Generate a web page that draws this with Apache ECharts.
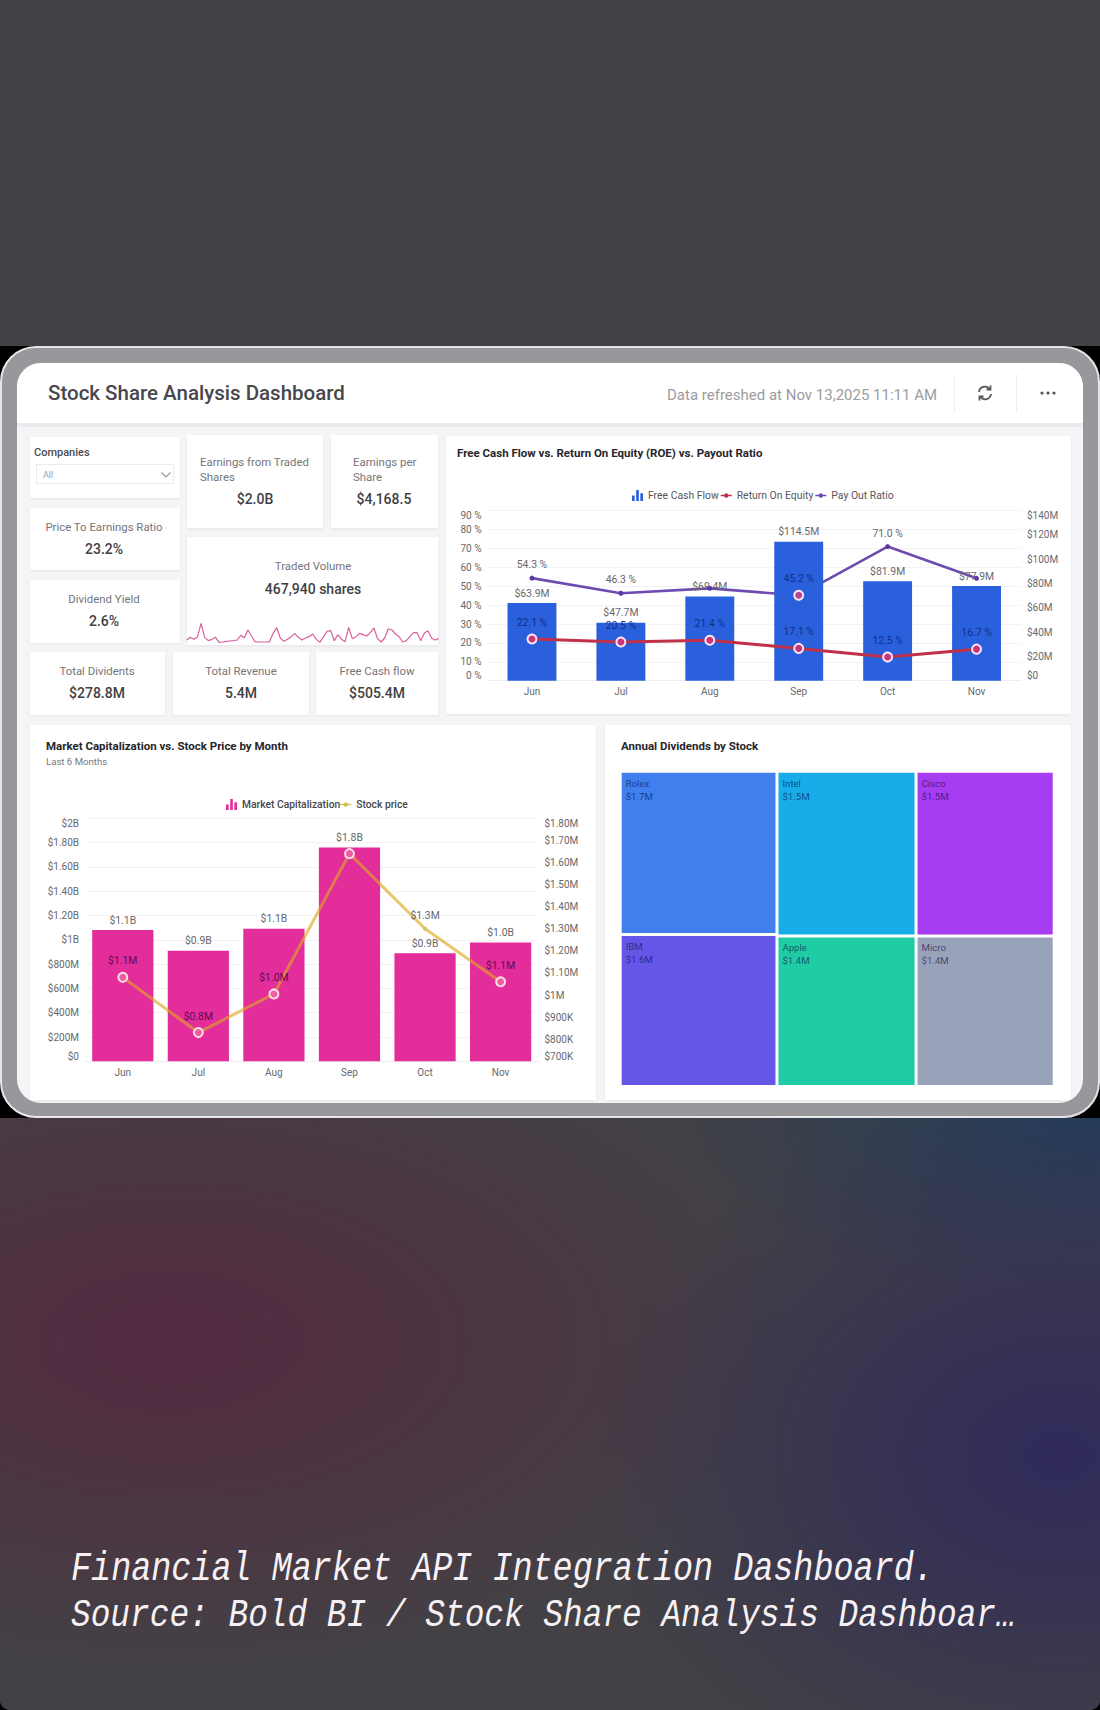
<!DOCTYPE html>
<html>
<head>
<meta charset="utf-8">
<title>Stock Share Analysis Dashboard</title>
<script src="https://cdn.jsdelivr.net/npm/echarts@6/dist/echarts.min.js"></script>
<style>
  html, body { margin: 0; padding: 0; background: #000; }
  #page { position: relative; width: 1100px; height: 1710px; overflow: hidden; background: #434145;
          border-radius: 0 0 10px 10px; font-family: Roboto, sans-serif; }
  #lower { position: absolute; left: 0; top: 1116px; width: 1100px; height: 594px;
    background:
      radial-gradient(ellipse 620px 330px at 170px 225px, #542a40 0%, rgba(84,42,64,0) 100%),
      radial-gradient(ellipse 480px 360px at 1060px 340px, #2f2a5a 0%, rgba(47,42,90,0) 100%),
      radial-gradient(ellipse 440px 190px at 1100px 0, #233c5a 0%, rgba(35,60,90,0) 100%),
      #434145; }
  #band { position: absolute; left: 0; top: 346px; width: 1100px; height: 772px; background: #000; }
  #frame { position: absolute; left: 0; top: 346px; width: 1100px; height: 772px; box-sizing: border-box;
           background: #98989c; border: 2px solid #e6e6e8; border-radius: 36px; }
  #screen { position: absolute; left: 17px; top: 363px; width: 1066px; height: 740px; background: #f5f5f7;
            border-radius: 24px; overflow: hidden; }
  #head { position: absolute; left: 0; top: 0; width: 1066px; height: 60px; background: #fff;
          border-bottom: 4px solid #ebebed; }
  .card { position: absolute; background: #fff; box-shadow: 0 1px 3px rgba(0,0,0,.07); }
  .t { position: absolute; white-space: nowrap; transform: translateY(-50%); }
  .c { transform: translate(-50%, -50%); }
  .lab { font-size: 11.4px; color: #75757a; }
  .val { font-size: 14px; font-weight: 500; color: #3f3f44; }
  #chart { position: absolute; left: 0; top: 0; width: 1100px; height: 1710px; }
  .cap { position: absolute; left: 71px; font-family: "Liberation Mono", monospace; font-style: italic;
         color: #f6f1f4; white-space: nowrap; transform-origin: left center;
         transform: translateY(-50%) scaleY(1.2); }
</style>
</head>
<body>
<div id="page">
  <div id="lower"></div>
  <div id="band"></div>
  <div id="frame"></div>
  <div id="screen"><div id="head"></div></div>
  <div id="boxes"></div>
  <div id="texts"></div>
  <svg style="position:absolute;left:975px;top:383px" width="20" height="20" viewBox="0 0 20 20" fill="none" stroke="#55555a" stroke-width="1.8">
    <path d="M4 9a6 6 0 0 1 10.5-3.2M16 11a6 6 0 0 1-10.5 3.2"/>
    <path d="M15.5 2.5v4h-4M4.5 17.5v-4h4"/>
  </svg>
  <svg style="position:absolute;left:1038px;top:388px" width="20" height="10" fill="#55555a">
    <circle cx="4" cy="5" r="1.6"/><circle cx="10" cy="5" r="1.6"/><circle cx="16" cy="5" r="1.6"/>
  </svg>
  <svg style="position:absolute;left:160px;top:470px" width="12" height="10" fill="none" stroke="#9a9aa0" stroke-width="1.2">
    <path d="M1.5 2.5 6 7l4.5-4.5"/>
  </svg>
  <div id="chart"></div>
  <div class="cap" style="top:1569px;font-size:33.45px">Financial Market API Integration Dashboard.</div>
  <div class="cap" style="top:1616px;font-size:32.8px">Source: Bold BI / Stock Share Analysis Dashboar…</div>
</div>
<script>
// Monthly figures
const months = ['Jun', 'Jul', 'Aug', 'Sep', 'Oct', 'Nov'];
const freeCashFlow = [63.9, 47.7, 69.4, 114.5, 81.9, 77.9];      // $M
const returnOnEquity = [22.1, 20.5, 21.4, 17.1, 12.5, 16.7];     // %
const payoutRatio = [54.3, 46.3, 48.9, 45.2, 71.0, 54.2];        // %
const marketCap = [1080, 910, 1090, 1760, 890, 977];             // $M
const stockPrice = [1080, 830, 1005, 1640, 1300, 1060];          // $K

// Axis tick labels
const marketCapTicks = ['$0', '$200M', '$400M', '$600M', '$800M', '$1B', '$1.20B', '$1.40B', '$1.60B', '$1.80B', '$2B'];
const stockPriceTicks = ['$700K', '$800K', '$900K', '$1M', '$1.10M', '$1.20M', '$1.30M', '$1.40M', '$1.50M', '$1.60M', '$1.70M', '$1.80M'];

// Annual dividends by stock, $M
const stockNames = ['Rolex', 'IBM', 'Intel', 'Cisco', 'Apple', 'Micro'];
const stockDividends = [1.70, 1.58, 1.52, 1.51, 1.39, 1.38];
const stockColors = ['#4080ee', '#6457e8', '#18ade8', '#a63df0', '#20cca4', '#98a2b8'];

// Daily traded volume, thousand shares
const tradedVolume = [15, 23, 17, 25, 65, 23, 13, 17, 23, 8, 9, 11, 12, 13, 15, 29, 21, 45, 27, 10, 9, 9, 9, 10,
  35, 52, 21, 11, 17, 25, 35, 23, 15, 21, 25, 33, 17, 8, 25, 41, 43, 13, 31, 17, 10, 53, 19, 25, 35, 31, 27,
  37, 51, 19, 9, 21, 49, 45, 33, 25, 9, 13, 25, 37, 37, 13, 35, 43, 21, 15, 19];

// KPI cards and dashboard chrome
const cardRects = [
  [30, 437, 150, 61], [187, 435, 136, 93], [331, 435, 107, 93], [30, 508, 150, 62], [30, 580, 150, 63],
  [187, 537, 251, 108], [30, 652, 135, 63], [173, 652, 136, 63], [316, 652, 122, 63],
  [446, 436, 625, 278], [30, 725, 566, 375], [605, 725, 466, 375]
];
const leftTexts = [
  ['Companies', 34, 452, 'font-size:11px;font-weight:500;color:#4a4a4f'],
  ['All', 43, 475, 'font-size:9px;color:#a0a0a5'],
  ['Earnings from Traded', 200, 462, 'font-size:11.4px;color:#75757a'],
  ['Shares', 200, 477, 'font-size:11.4px;color:#75757a'],
  ['Earnings per', 353, 462, 'font-size:11.4px;color:#75757a'],
  ['Share', 353, 477, 'font-size:11.4px;color:#75757a'],
  ['Stock Share Analysis Dashboard', 48, 393, 'font-size:20.5px;font-weight:500;color:#47474c'],
  ['Data refreshed at Nov 13,2025 11:11 AM', 667, 395, 'font-size:15px;color:#9c9ca1']
];
const centeredTexts = [
  ['$2.0B', 255, 499, 'val'], ['$4,168.5', 384, 499, 'val'],
  ['Price To Earnings Ratio', 104, 527, 'lab'], ['23.2%', 104, 549, 'val'],
  ['Dividend Yield', 104, 599, 'lab'], ['2.6%', 104, 621, 'val'],
  ['Traded Volume', 313, 566, 'lab'], ['467,940 shares', 313, 589, 'val'],
  ['Total Dividents', 97, 671, 'lab'], ['$278.8M', 97, 693, 'val'],
  ['Total Revenue', 241, 671, 'lab'], ['5.4M', 241, 693, 'val'],
  ['Free Cash flow', 377, 671, 'lab'], ['$505.4M', 377, 693, 'val']
];

const boxes = document.getElementById('boxes');
cardRects.forEach(([x, y, w, h]) => {
  const d = document.createElement('div');
  d.className = 'card';
  d.style.cssText = `left:${x}px;top:${y}px;width:${w}px;height:${h}px`;
  boxes.appendChild(d);
});
// Company selector box and the two header separators
[[36, 464, 138, 20, 'border:1px solid #ececee;box-sizing:border-box'],
 [954, 374, 1, 38, 'background:#efeff1'], [1016, 374, 1, 38, 'background:#efeff1']].forEach(([x, y, w, h, extra]) => {
  const d = document.createElement('div');
  d.style.cssText = `position:absolute;left:${x}px;top:${y}px;width:${w}px;height:${h}px;${extra}`;
  boxes.appendChild(d);
});
const texts = document.getElementById('texts');
leftTexts.forEach(([s, x, y, css]) => {
  const d = document.createElement('div');
  d.className = 't';
  d.textContent = s;
  d.style.cssText = `left:${x}px;top:${y}px;${css}`;
  texts.appendChild(d);
});
centeredTexts.forEach(([s, x, y, cls]) => {
  const d = document.createElement('div');
  d.className = 't c ' + cls;
  d.textContent = s;
  d.style.cssText = `left:${x}px;top:${y}px`;
  texts.appendChild(d);
});

// Chart styling
const GREY = '#68686d';
const NAVY = '#0f2f8c';
const PLUM = '#5f0b58';
const BLUE = '#2a60dc';
const PINK = '#e22d9b';
const RED = '#c0304a';
const PURPLE = '#6d4bb0';
const BAR_ICON = 'path://M0 10V5h2.4v5zM3.8 10V0h2.4v10zM7.6 10V3H10v7z';
const LINE_ICON = 'path://M0 4.3h3.1a2 2 0 0 1 3.8 0H10v1.4H6.9a2 2 0 0 1-3.8 0H0z';
const hiddenPayoutLabels = new Set(['Aug', 'Nov']);
const hiddenStockLabels = new Set(['Sep']);

const titleStyle = { fontFamily: 'Roboto', fontSize: 11.5, fontWeight: 'bold', color: '#26262a' };
const monthAxis = (gridIndex) => ({
  type: 'category', gridIndex, data: months,
  axisLine: { lineStyle: { color: '#eeeef0' } }, axisTick: { show: false },
  axisLabel: { color: GREY, fontSize: 10, fontFamily: 'Roboto', margin: 6 }
});
const valueAxis = (gridIndex, position, min, max, interval, formatter, showGrid) => ({
  type: 'value', gridIndex, position, min, max, interval,
  axisLine: { show: false }, axisTick: { show: false },
  splitLine: { show: showGrid, lineStyle: { color: '#f3f3f5' } },
  axisLabel: { color: GREY, fontSize: 10, fontFamily: 'Roboto', margin: 6, formatter,
    verticalAlignMinLabel: 'bottom', verticalAlignMaxLabel: 'top' }
});
const legendText = { color: '#56565b', fontSize: 10.4, fontFamily: 'Roboto' };
const legendSwatch = (color) => ({ color, borderWidth: 0 });

// One treemap leaf per stock, nested so the rows and columns fall the way the tiles are grouped
const leaf = (i) => ({ name: stockNames[i], value: stockDividends[i], itemStyle: { color: stockColors[i] } });
const treemapData = [
  { name: 'Leaders', children: [leaf(0), leaf(1)] },
  { name: 'Others', children: [
    { name: 'Upper', children: [leaf(2), leaf(3)] },
    { name: 'Lower', children: [leaf(4), leaf(5)] }
  ] }
];
const tileLevel = { itemStyle: { gapWidth: 3, borderWidth: 0, borderColor: '#fff' } };

const chart = echarts.init(document.getElementById('chart'), null, { renderer: 'svg', width: 1100, height: 1710 });
chart.setOption({
  animation: false,
  title: [
    { text: 'Free Cash Flow vs. Return On Equity (ROE) vs. Payout Ratio', left: 457, top: 447, padding: 0, textStyle: titleStyle },
    { text: 'Market Capitalization vs. Stock Price by Month', left: 46, top: 740, padding: 0, textStyle: titleStyle,
      subtext: 'Last 6 Months', itemGap: 4, subtextStyle: { fontFamily: 'Roboto', fontSize: 9.6, color: '#77777c' } },
    { text: 'Annual Dividends by Stock', left: 621, top: 740, padding: 0, textStyle: titleStyle }
  ],
  legend: [
    { left: 632, top: 490, padding: 0, itemWidth: 11, itemHeight: 11, itemGap: 2, textStyle: legendText,
      data: [{ name: 'Free Cash Flow', icon: BAR_ICON, itemStyle: legendSwatch(BLUE) },
             { name: 'Return On Equity', icon: LINE_ICON, itemStyle: legendSwatch(RED) },
             { name: 'Pay Out Ratio', icon: LINE_ICON, itemStyle: legendSwatch(PURPLE) }] },
    { left: 226, top: 799, padding: 0, itemWidth: 11, itemHeight: 11, itemGap: 0,
      textStyle: Object.assign({}, legendText, { fontWeight: 500, color: '#47474c', fontSize: 10.3 }),
      data: [{ name: 'Market Capitalization', icon: BAR_ICON, itemStyle: legendSwatch(PINK) },
             { name: 'Stock price', icon: LINE_ICON, itemStyle: legendSwatch('#d2bd55') }] }
  ],
  grid: [
    { left: 487.5, top: 510.7, width: 533.5, height: 170 },
    { left: 85, top: 818.3, width: 453.4, height: 243 },
    { left: 186.7, top: 621.7, width: 252, height: 23.3 }
  ],
  xAxis: [
    monthAxis(0),
    monthAxis(1),
    { type: 'category', gridIndex: 2, show: false, boundaryGap: false, data: tradedVolume.map((_, i) => i) }
  ],
  yAxis: [
    valueAxis(0, 'left', 0, 90, 10, (v) => v + ' %', true),
    valueAxis(0, 'right', 0, 140, 20, (v) => (v === 0 ? '$0' : '$' + v + 'M'), false),
    valueAxis(1, 'left', 0, 2000, 200, (v, i) => marketCapTicks[i], true),
    valueAxis(1, 'right', 700, 1800, 100, (v, i) => stockPriceTicks[i], false),
    { type: 'value', gridIndex: 2, show: false, min: 0, max: 70 }
  ],
  series: [
    // Pay-out line sits behind the bars; its markers and labels go on top
    { type: 'line', name: 'Pay Out Ratio', xAxisIndex: 0, yAxisIndex: 0, z: 1, data: payoutRatio, symbol: 'none',
      itemStyle: { color: PURPLE }, lineStyle: { color: PURPLE, width: 2.6 } },
    { type: 'bar', name: 'Free Cash Flow', xAxisIndex: 0, yAxisIndex: 1, z: 2, data: freeCashFlow, barWidth: '55%',
      itemStyle: { color: BLUE },
      label: { show: true, position: 'top', distance: 5, color: GREY, fontSize: 10.4, fontFamily: 'Roboto',
        formatter: (p) => '$' + p.value.toFixed(1) + 'M' } },
    { type: 'line', name: 'Return On Equity', xAxisIndex: 0, yAxisIndex: 0, z: 4, data: returnOnEquity,
      symbol: 'circle', symbolSize: 9,
      itemStyle: { color: '#c8357a', borderColor: '#fbe6f2', borderWidth: 2 }, lineStyle: { color: RED, width: 3 },
      label: { show: true, position: 'top', distance: 6, color: NAVY, fontSize: 10.4, fontFamily: 'Roboto',
        formatter: (p) => p.value.toFixed(1) + ' %' } },
    { type: 'line', name: 'Pay Out Ratio', xAxisIndex: 0, yAxisIndex: 0, z: 5, symbolSize: 5, symbol: 'circle',
      lineStyle: { width: 0, opacity: 0 }, itemStyle: { color: '#5b3aa6' },
      data: payoutRatio.map((value, i) => months[i] === 'Sep'
        ? { value, symbolSize: 9, itemStyle: { color: '#b8478f', borderColor: '#fbe6f2', borderWidth: 2 },
            label: { color: NAVY } }
        : { value }),
      label: { show: true, position: 'top', distance: 6, color: GREY, fontSize: 10.4, fontFamily: 'Roboto',
        formatter: (p) => (hiddenPayoutLabels.has(p.name) ? '' : p.value.toFixed(1) + ' %') } },

    { type: 'bar', name: 'Market Capitalization', xAxisIndex: 1, yAxisIndex: 2, z: 2, data: marketCap, barWidth: '81%',
      itemStyle: { color: PINK },
      label: { show: true, position: 'top', distance: 5, color: GREY, fontSize: 10.4, fontFamily: 'Roboto',
        formatter: (p) => '$' + (p.value / 1000).toFixed(1) + 'B' } },
    { type: 'line', name: 'Stock price', xAxisIndex: 1, yAxisIndex: 3, z: 4, symbol: 'circle', symbolSize: 9,
      lineStyle: { color: '#dfa820', width: 3, opacity: 0.65 },
      itemStyle: { color: '#ef5f9f', borderColor: '#fbdde4', borderWidth: 2 },
      data: stockPrice.map((value, i) => months[i] === 'Oct'
        ? { value, symbolSize: 4, itemStyle: { color: '#c9c66c', borderWidth: 0 }, label: { color: GREY } }
        : { value }),
      label: { show: true, position: 'top', distance: 6, color: PLUM, fontSize: 10.4, fontFamily: 'Roboto',
        formatter: (p) => (hiddenStockLabels.has(p.name) ? '' : '$' + (p.value / 1000).toFixed(1) + 'M') } },

    { type: 'line', name: 'Traded Volume', xAxisIndex: 2, yAxisIndex: 4, data: tradedVolume, symbol: 'none',
      lineStyle: { color: '#d9609f', width: 1.2 } },

    { type: 'treemap', left: 621.7, top: 772.7, width: 431, height: 312.3, sort: false, squareRatio: 1,
      breadcrumb: { show: false }, roam: false, nodeClick: false,
      levels: [tileLevel, tileLevel, tileLevel, tileLevel],
      label: { show: true, position: 'insideTopLeft', distance: 4, padding: 0, fontFamily: 'Roboto', fontSize: 9.6, lineHeight: 13,
        color: 'rgba(10,10,70,.62)', formatter: (p) => p.name + '\n$' + p.value.toFixed(1) + 'M' },
      data: treemapData }
  ]
});
</script>
</body>
</html>
